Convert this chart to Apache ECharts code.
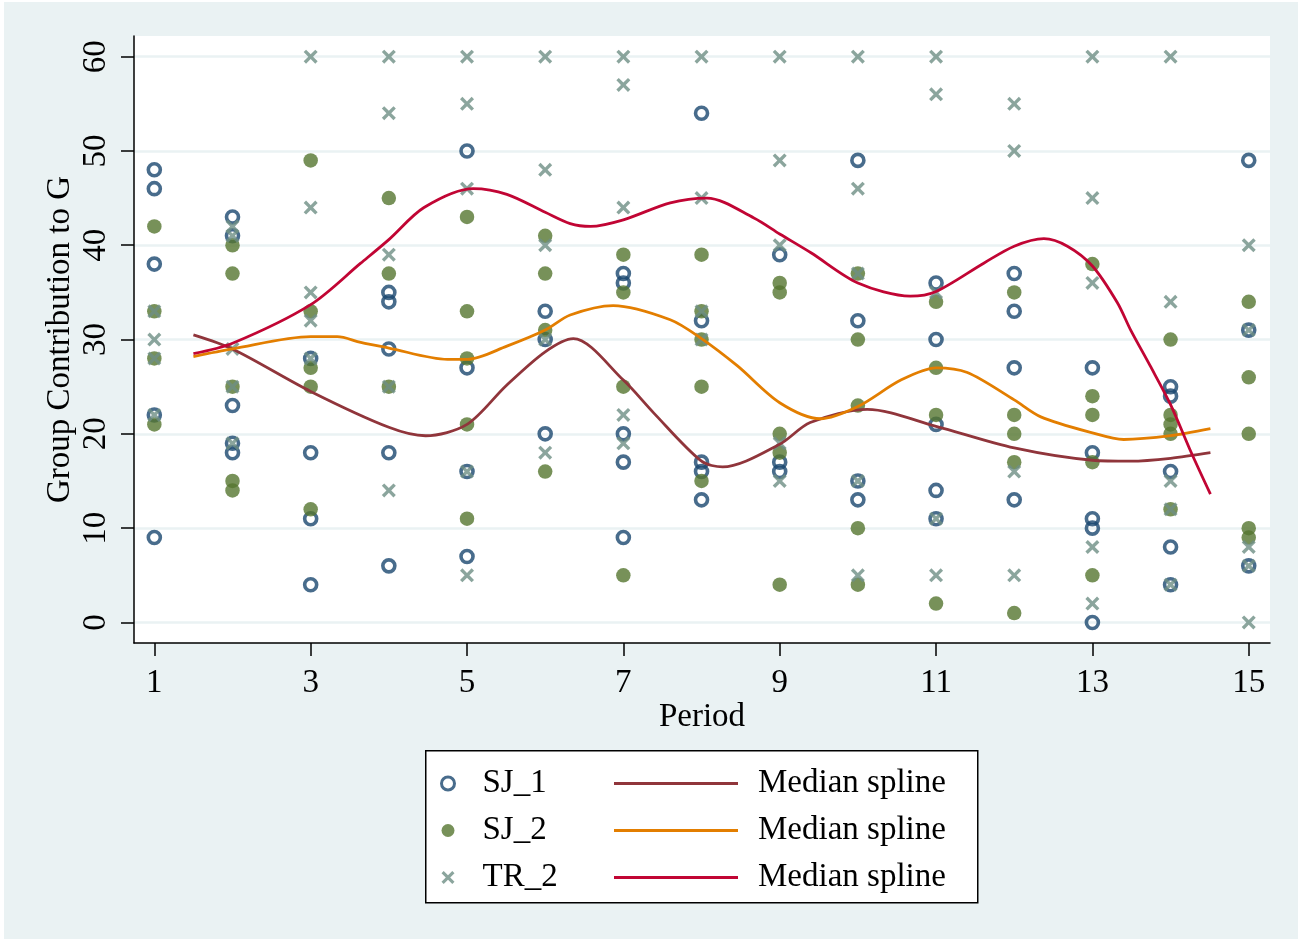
<!DOCTYPE html>
<html>
<head>
<meta charset="utf-8">
<title>Group Contribution to G by Period</title>
<script src="https://cdn.jsdelivr.net/npm/echarts@6/dist/echarts.min.js"></script>
<style>
  html, body { margin: 0; padding: 0; background: #ffffff; }
  #frame { position: absolute; left: 4px; top: 2px; width: 1294px; height: 937px; background: #eaf2f3; }
  #chart { position: absolute; left: 0; top: 0; width: 1304px; height: 945px; }
</style>
</head>
<body>
<div id="frame"></div>
<div id="chart"></div>
<script>
// Periods and axis ticks
const periods = [1, 2, 3, 4, 5, 6, 7, 8, 9, 10, 11, 12, 13, 14, 15];
const xTicks = [1, 3, 5, 7, 9, 11, 13, 15];
const yTicks = [0, 10, 20, 30, 40, 50, 60];

// Group contributions per period (one inner list per period)
const sj1 = [
  [48, 46, 38, 22, 9],
  [43, 41, 23, 19, 18],
  [28, 18, 11, 4],
  [35, 34, 29, 18, 6],
  [50, 27, 16, 7],
  [33, 30, 20],
  [37, 36, 20, 17, 9],
  [54, 32, 17, 16, 13],
  [39, 17, 16],
  [49, 32, 15, 13],
  [36, 30, 21, 14, 11],
  [37, 33, 27, 13],
  [27, 18, 11, 10, 0],
  [25, 24, 16, 8, 4],
  [49, 31, 6]
];
const sj2 = [
  [42, 33, 28, 21],
  [40, 37, 25, 15, 14],
  [49, 33, 27, 25, 12],
  [45, 37, 25],
  [43, 33, 28, 21, 11],
  [41, 37, 31, 16],
  [39, 35, 25, 5],
  [39, 33, 30, 25, 15],
  [36, 35, 20, 18, 4],
  [37, 30, 23, 10, 4],
  [34, 27, 22, 2],
  [35, 22, 20, 17, 1],
  [38, 24, 22, 17, 5],
  [30, 22, 21, 20, 12],
  [34, 26, 20, 10, 9]
];
const tr2 = [
  [33, 30, 28, 22],
  [42, 41, 29, 25, 19],
  [60, 44, 35, 32, 28],
  [60, 54, 39, 25, 14],
  [60, 55, 46, 16, 5],
  [60, 48, 40, 30, 18],
  [60, 57, 44, 22, 19],
  [60, 45, 33, 30],
  [60, 49, 40, 19, 15],
  [60, 46, 37, 15, 5],
  [60, 56, 35, 11, 5],
  [55, 50, 16, 5],
  [60, 45, 36, 8, 2],
  [60, 34, 15, 12, 4],
  [40, 31, 8, 6, 0]
];

// Median spline curves (period, value)
const sj1SplineX = [1.5, 2.0, 3.0, 4.0, 4.47, 5.0, 5.5, 6.0, 6.36, 7.0, 7.39, 8.0, 8.27, 9.0, 9.39, 10.12, 11.0, 12.0, 13.0, 13.49, 14.0, 14.51];
const sj1SplineY = [30.5, 29.0, 24.5, 20.7, 19.8, 21.0, 25.1, 28.7, 30.1, 25.7, 22.2, 17.1, 16.5, 18.9, 21.2, 22.6, 20.8, 18.5, 17.2, 17.1, 17.4, 18.0];

const sj2SplineX = [1.5, 2.0, 3.0, 3.34, 3.64, 4.0, 4.75, 5.0, 5.51, 6.0, 6.32, 6.87, 7.6, 8.0, 8.46, 9.0, 9.52, 10.0, 10.55, 11.0, 11.4, 12.0, 12.34, 13.0, 13.4, 14.0, 14.51];
const sj2SplineY = [28.2, 29.0, 30.3, 30.3, 29.7, 29.1, 27.9, 27.9, 29.3, 31.0, 32.6, 33.6, 32.1, 30.1, 27.2, 23.3, 21.6, 22.9, 25.7, 27.0, 26.5, 23.6, 21.8, 20.1, 19.4, 19.8, 20.55];

const tr2SplineX = [1.5, 2.0, 3.0, 3.64, 4.0, 4.45, 5.08, 5.51, 6.0, 6.32, 6.58, 7.0, 7.6, 8.07, 8.67, 9.0, 9.4, 10.0, 10.67, 11.0, 11.61, 12.0, 12.38, 12.68, 13.0, 13.32, 13.49, 13.74, 14.0, 14.26, 14.51];
const tr2SplineY = [28.5, 29.6, 33.7, 38.1, 40.6, 44.0, 46.0, 45.4, 43.5, 42.3, 42.0, 42.7, 44.5, 45.0, 42.9, 41.2, 39.2, 36.0, 34.6, 35.1, 38.1, 39.9, 40.7, 39.9, 37.8, 33.9, 31.0, 27.2, 23.1, 18.1, 13.6];

// Stata s2color palette
const NAVY = '#1a476f', MAROON = '#90353b', GREEN = '#55752f', ORANGE = '#e37e00', TEAL = '#6e8e84', CRANBERRY = '#c10534';
const FONT = 'Liberation Serif';
const XMARK = 'path://M0,1.7L1.7,0L5,3.3L8.3,0L10,1.7L6.7,5L10,8.3L8.3,10L5,6.7L1.7,10L0,8.3L3.3,5Z';

function points(groups) {
  const out = [];
  groups.forEach((vals, i) => vals.forEach(v => out.push([periods[i], v])));
  return out;
}
function curve(xs, ys) {
  return xs.map((x, i) => [x, ys[i]]);
}

const chart = echarts.init(document.getElementById('chart'), null, { renderer: 'canvas' });

const labelText = { fontFamily: FONT, fontSize: 33, color: '#000' };

chart.setOption({
  backgroundColor: 'transparent',
  animation: false,
  grid: { left: 134, top: 36, width: 1136, height: 607, show: true, backgroundColor: '#ffffff', borderWidth: 0 },
  xAxis: {
    type: 'value', min: 0.74, max: 15.272,
    name: 'Period', nameLocation: 'middle', nameGap: 58, nameMoveOverlap: false,
    nameTextStyle: labelText,
    axisLine: { show: true, onZero: false, lineStyle: { color: '#000', width: 1.5 } },
    axisTick: { show: true, length: 13, customValues: xTicks, lineStyle: { color: '#000', width: 1.5 } },
    axisLabel: { customValues: xTicks, margin: 24, ...labelText },
    splitLine: { show: false }
  },
  yAxis: {
    type: 'value', min: -2.18, max: 62.19,
    name: 'Group Contribution to G', nameLocation: 'middle', nameGap: 57, nameRotate: 90, nameMoveOverlap: false,
    nameTextStyle: labelText,
    axisLine: { show: true, onZero: false, lineStyle: { color: '#000', width: 1.5 } },
    axisTick: { show: true, length: 13, customValues: yTicks, lineStyle: { color: '#000', width: 1.5 } },
    axisLabel: { customValues: yTicks, rotate: 90, margin: 21, ...labelText },
    splitLine: { show: true, lineStyle: { color: '#eaf2f3', width: 2.5 } }
  },
  legend: [
    {
      left: 440, top: 767, orient: 'vertical', padding: 0,
      itemWidth: 13, itemHeight: 13, itemGap: 14,
      textStyle: { ...labelText, lineHeight: 32, padding: [0, 0, 0, 23] },
      data: [
        { name: 'SJ_1', icon: 'circle', itemStyle: { color: 'rgba(255,255,255,0)', borderColor: NAVY, borderWidth: 3 } },
        { name: 'SJ_2', icon: 'circle', itemStyle: { color: GREEN, borderWidth: 0 } },
        { name: 'TR_2', icon: XMARK, itemStyle: { color: TEAL, borderWidth: 0 } }
      ]
    },
    {
      left: 614, top: 767, orient: 'vertical', padding: 0,
      itemWidth: 124, itemHeight: 3, itemGap: 14,
      textStyle: { ...labelText, lineHeight: 32, padding: [0, 0, 0, 15] },
      formatter: () => 'Median spline',
      data: [
        { name: 'SJ_1 spline', icon: 'rect', itemStyle: { color: MAROON, borderWidth: 0 } },
        { name: 'SJ_2 spline', icon: 'rect', itemStyle: { color: ORANGE, borderWidth: 0 } },
        { name: 'TR_2 spline', icon: 'rect', itemStyle: { color: CRANBERRY, borderWidth: 0 } }
      ]
    }
  ],
  graphic: [
    { type: 'rect', left: 425, top: 750, z: 1, shape: { width: 552, height: 152 }, style: { fill: '#ffffff', stroke: '#000', lineWidth: 1.5 } }
  ],
  series: [
    {
      name: 'SJ_1', type: 'scatter', data: points(sj1), symbol: 'circle', symbolSize: 12,
      itemStyle: { color: 'rgba(255,255,255,0)', borderColor: NAVY, borderWidth: 3.6 }
    },
    {
      name: 'SJ_1 spline', type: 'line', data: curve(sj1SplineX, sj1SplineY), showSymbol: false, smooth: 0.3,
      lineStyle: { color: MAROON, width: 2.8 }, itemStyle: { color: MAROON }
    },
    {
      name: 'SJ_2', type: 'scatter', data: points(sj2), symbol: 'circle', symbolSize: 14.5,
      itemStyle: { color: GREEN }
    },
    {
      name: 'SJ_2 spline', type: 'line', data: curve(sj2SplineX, sj2SplineY), showSymbol: false, smooth: 0.3,
      lineStyle: { color: ORANGE, width: 2.8 }, itemStyle: { color: ORANGE }
    },
    {
      name: 'TR_2', type: 'scatter', data: points(tr2), symbol: XMARK, symbolSize: 14,
      itemStyle: { color: TEAL }
    },
    {
      name: 'TR_2 spline', type: 'line', data: curve(tr2SplineX, tr2SplineY), showSymbol: false, smooth: 0.3,
      lineStyle: { color: CRANBERRY, width: 2.8 }, itemStyle: { color: CRANBERRY }
    }
  ]
});
</script>
</body>
</html>
